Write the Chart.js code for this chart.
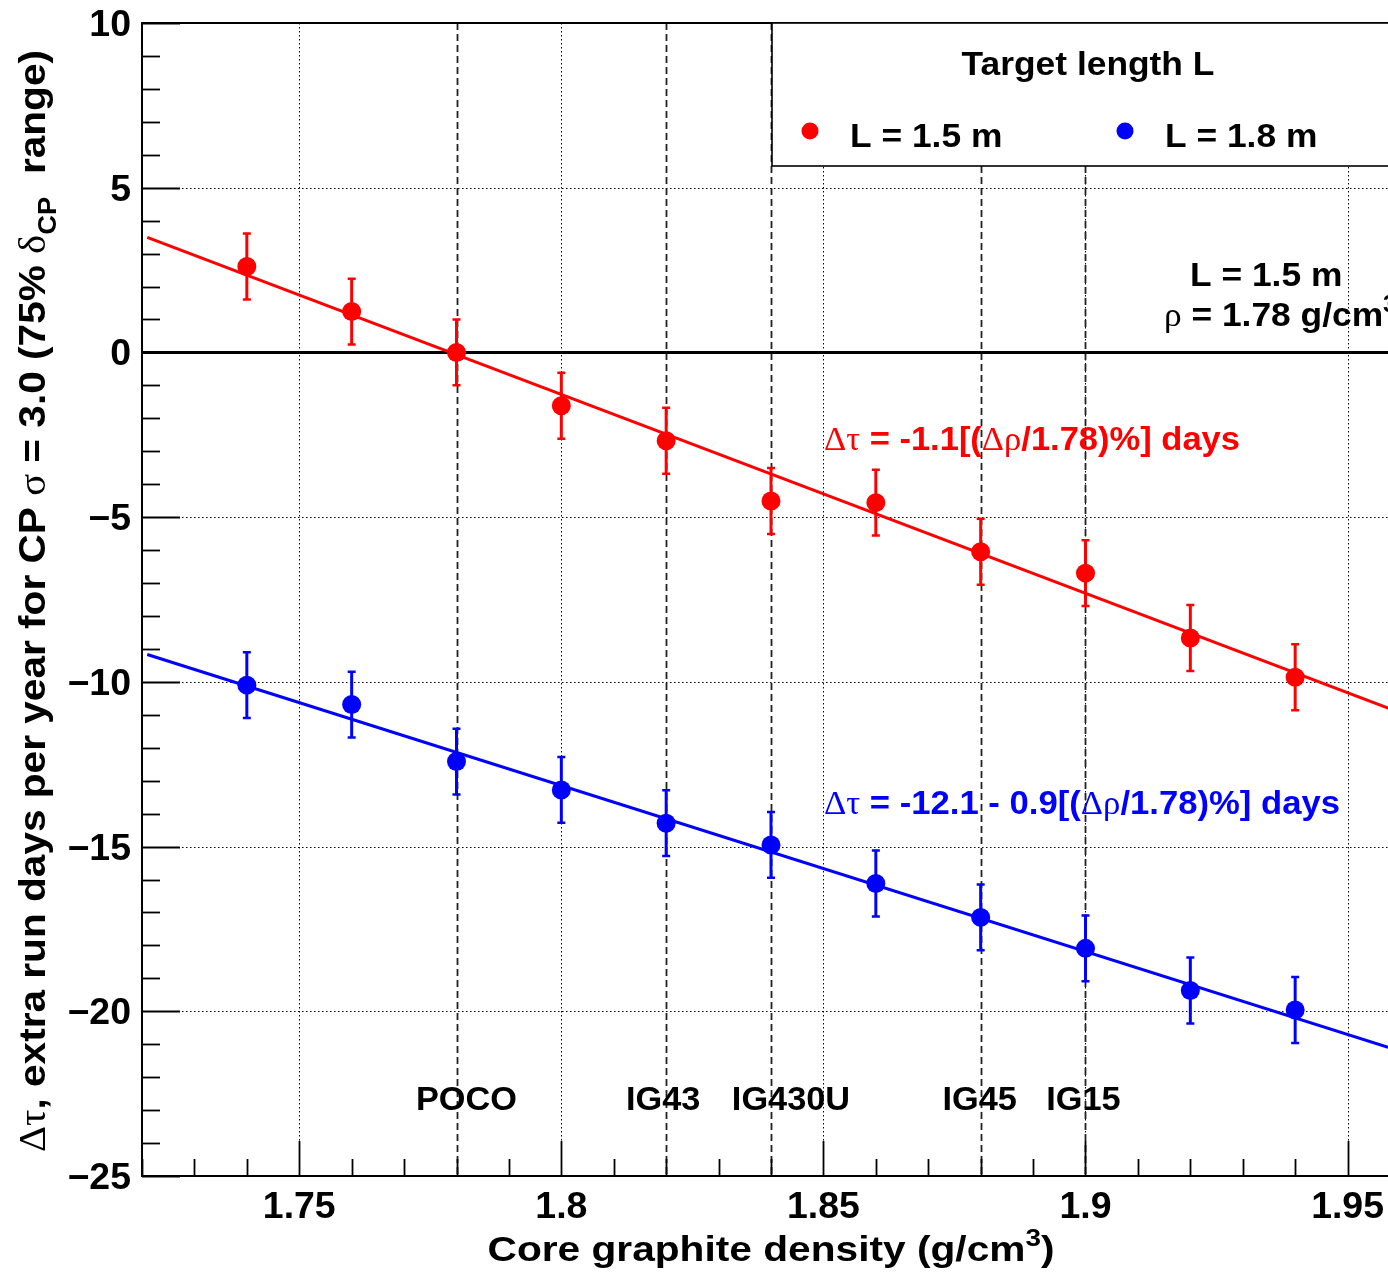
<!DOCTYPE html>
<html>
<head>
<meta charset="utf-8">
<script src="https://cdn.jsdelivr.net/npm/chart.js@4.4.1/dist/chart.umd.min.js"></script>
<style>
  html, body { margin: 0; padding: 0; background: #fff; overflow: hidden; }
  canvas { display: block; }
</style>
</head>
<body>
<canvas id="chart" width="1420" height="1273"></canvas>
<script>
// Extra run days per year vs. core graphite density, for two target lengths
const densities = [1.74, 1.76, 1.78, 1.80, 1.82, 1.84, 1.86, 1.88, 1.90, 1.92, 1.94];
const daysL15 = [2.61, 1.24, 0.00, -1.62, -2.68, -4.51, -4.56, -6.05, -6.70, -8.67, -9.86];
const errL15  = [1.0, 1.0, 1.0, 1.0, 1.0, 1.0, 1.0, 1.0, 1.0, 1.0, 1.0];
const daysL18 = [-10.10, -10.69, -12.42, -13.28, -14.29, -14.95, -16.12, -17.15, -18.09, -19.37, -19.96];
const errL18  = [1.0, 1.0, 1.0, 1.0, 1.0, 1.0, 1.0, 1.0, 1.0, 1.0, 1.0];

// Linear fits, evaluated at the ends of the fit range
const fitDensity = [1.721, 1.96];
const fitL15 = [3.49, -10.93];
const fitL18 = [-9.17, -21.21];

const seriesNames = ['L = 1.5 m', 'L = 1.8 m'];
const seriesColors = ['#ff0000', '#0000ff'];
const legendTitle = 'Target length L';

// Graphite grades and their densities
const materials = ['POCO', 'IG43', 'IG430U', 'IG45', 'IG15'];
const materialDensity = [1.78, 1.82, 1.84, 1.88, 1.90];

const xTicks = [1.75, 1.8, 1.85, 1.9, 1.95];
const xTickLabels = ['1.75', '1.8', '1.85', '1.9', '1.95'];
const yTicks = [10, 5, 0, -5, -10, -15, -20, -25];
const yTickLabels = ['10', '5', '0', '\u22125', '\u221210', '\u221215', '\u221220', '\u221225'];

// ---- text helpers -------------------------------------------------------
const SANS = '"Liberation Sans", Arial, Helvetica, sans-serif';
const SERIF = '"Liberation Serif", "Times New Roman", serif';

function pieceFont(kind, size) {
  if (kind === 'g') return `${size}px ${SERIF}`;
  if (kind === 'sub' || kind === 'sup') return `bold ${Math.round(size * 0.68)}px ${SANS}`;
  return `bold ${size}px ${SANS}`;
}
function pieceDy(kind, size) {
  if (kind === 'sub') return size * 0.3;
  if (kind === 'sup') return -size * 0.42;
  return 0;
}
// Draws a run of mixed-font pieces; optional target width stretches it horizontally
function richText(ctx, pieces, x, y, o) {
  const size = o.size;
  ctx.save();
  let total = 0;
  const widths = pieces.map(([k, t]) => {
    ctx.font = pieceFont(k, size);
    const w = ctx.measureText(t).width;
    total += w;
    return w;
  });
  const sx = o.width ? o.width / total : (o.stretch || 1.04);
  ctx.translate(x, y);
  if (o.angle) ctx.rotate(o.angle);
  ctx.scale(sx, 1);
  let cx = o.align === 'center' ? -total / 2 : (o.align === 'right' ? -total : 0);
  ctx.fillStyle = o.color || '#000';
  ctx.textAlign = 'left';
  ctx.textBaseline = 'alphabetic';
  pieces.forEach(([k, t], i) => {
    ctx.font = pieceFont(k, size);
    ctx.fillText(t, cx, pieceDy(k, size));
    cx += widths[i];
  });
  ctx.restore();
}

// ---- decorations drawn around the datasets --------------------------------
const decor = {
  id: 'densityDecor',
  beforeDatasetsDraw(chart) {
    const { ctx, chartArea: a, scales: { x, y } } = chart;
    ctx.save();
    ctx.beginPath();
    ctx.rect(a.left, a.top, a.right - a.left, a.bottom - a.top);
    ctx.clip();

    // dotted grid at major ticks
    ctx.strokeStyle = '#000';
    ctx.lineWidth = 1;
    ctx.setLineDash([1.5, 2.5]);
    xTicks.forEach(v => {
      const px = Math.round(x.getPixelForValue(v)) + 0.5;
      ctx.beginPath(); ctx.moveTo(px, a.top); ctx.lineTo(px, a.bottom); ctx.stroke();
    });
    yTicks.forEach(v => {
      if (v === 0 || v === y.max || v === y.min) return;
      const py = Math.round(y.getPixelForValue(v)) + 0.5;
      ctx.beginPath(); ctx.moveTo(a.left, py); ctx.lineTo(a.right, py); ctx.stroke();
    });

    // dashed markers for graphite grades
    ctx.strokeStyle = '#222';
    ctx.lineWidth = 1.8;
    ctx.setLineDash([7, 4]);
    materialDensity.forEach(v => {
      const px = Math.round(x.getPixelForValue(v)) + 0.5;
      ctx.beginPath(); ctx.moveTo(px, a.top); ctx.lineTo(px, a.bottom); ctx.stroke();
    });

    // zero line
    ctx.setLineDash([]);
    ctx.strokeStyle = '#000';
    ctx.lineWidth = 3;
    const y0 = y.getPixelForValue(0);
    ctx.beginPath(); ctx.moveTo(a.left, y0); ctx.lineTo(a.right, y0); ctx.stroke();

    // grade names
    const labelShift = [10, -3, 20, -1, -2];
    materials.forEach((m, i) => {
      richText(ctx, [['b', m]], x.getPixelForValue(materialDensity[i]) + labelShift[i], 1110,
        { size: 33, align: 'center' });
    });

    // error bars
    [[daysL15, errL15, seriesColors[0]], [daysL18, errL18, seriesColors[1]]].forEach(([vals, errs, col]) => {
      ctx.strokeStyle = col;
      densities.forEach((d, i) => {
        const px = x.getPixelForValue(d);
        const yt = y.getPixelForValue(vals[i] + errs[i]);
        const yb = y.getPixelForValue(vals[i] - errs[i]);
        ctx.lineWidth = 3;
        ctx.beginPath(); ctx.moveTo(px, yt); ctx.lineTo(px, yb); ctx.stroke();
        ctx.lineWidth = 2.5;
        ctx.beginPath();
        ctx.moveTo(px - 4, yt); ctx.lineTo(px + 4, yt);
        ctx.moveTo(px - 4, yb); ctx.lineTo(px + 4, yb);
        ctx.stroke();
      });
    });
    ctx.restore();
  },
  afterDatasetsDraw(chart) {
    const { ctx, chartArea: a, scales: { x, y } } = chart;
    ctx.save();
    ctx.setLineDash([]);

    // frame
    ctx.strokeStyle = '#000';
    ctx.lineWidth = 2;
    ctx.strokeRect(a.left, a.top, a.right - a.left, a.bottom - a.top);

    // tick marks, drawn inward
    ctx.lineWidth = 1.8;
    for (let i = Math.ceil(x.min * 100 - 1e-6); i <= Math.floor(x.max * 100 + 1e-6); i++) {
      const px = Math.round(x.getPixelForValue(i / 100)) + 0.5;
      const len = i % 5 === 0 ? 35 : 17;
      ctx.beginPath(); ctx.moveTo(px, a.bottom); ctx.lineTo(px, a.bottom - len); ctx.stroke();
    }
    for (let v = y.min; v <= y.max; v++) {
      const py = Math.round(y.getPixelForValue(v)) + 0.5;
      const len = v % 5 === 0 ? 38 : 18;
      ctx.beginPath(); ctx.moveTo(a.left, py); ctx.lineTo(a.left + len, py); ctx.stroke();
    }

    // tick labels
    xTicks.forEach((v, i) => {
      richText(ctx, [['b', xTickLabels[i]]], x.getPixelForValue(v), 1218, { size: 36, align: 'center' });
    });
    yTicks.forEach((v, i) => {
      richText(ctx, [['b', yTickLabels[i]]], a.left - 11, y.getPixelForValue(v) + 13, { size: 36, align: 'right' });
    });

    // legend box
    ctx.fillStyle = '#fff';
    ctx.fillRect(772, a.top, 700, 143);
    ctx.lineWidth = 1.6;
    ctx.strokeStyle = '#000';
    ctx.strokeRect(772, a.top, 700, 143);
    richText(ctx, [['b', legendTitle]], 1088, 75, { size: 34, align: 'center' });
    const entryX = [810, 1125];
    seriesNames.forEach((n, i) => {
      ctx.fillStyle = seriesColors[i];
      ctx.beginPath(); ctx.arc(entryX[i], 131, 8.5, 0, Math.PI * 2); ctx.fill();
      richText(ctx, [['b', n]], entryX[i] + 40, 147, { size: 34 });
    });

    // reference point note
    richText(ctx, [['b', 'L = 1.5 m']], 1190, 286, { size: 34 });
    richText(ctx, [['g', '\u03c1'], ['b', ' = 1.78 g/cm'], ['sup', '3']], 1164, 326, { size: 34 });

    // fit formulas
    richText(ctx, [['g', '\u0394\u03c4'], ['b', ' = -1.1[('], ['g', '\u0394\u03c1'], ['b', '/1.78)%] days']],
      824, 450, { size: 34, width: 416, color: seriesColors[0] });
    richText(ctx, [['g', '\u0394\u03c4'], ['b', ' = -12.1 - 0.9[('], ['g', '\u0394\u03c1'], ['b', '/1.78)%] days']],
      824, 814, { size: 34, width: 516, color: seriesColors[1] });

    // axis titles
    richText(ctx, [['b', 'Core graphite density (g/cm'], ['sup', '3'], ['b', ')']], 771, 1261,
      { size: 35, width: 567, align: 'center' });
    richText(ctx, [['g', '\u0394\u03c4'], ['b', ', extra run days per year for CP '], ['g', '\u03c3'],
                   ['b', ' = 3.0 (75% '], ['g', '\u03b4'], ['sub', 'CP'], ['b', '  range)']],
      45, 601, { size: 37, width: 1102, align: 'center', angle: -Math.PI / 2 });
    ctx.restore();
  }
};

const pts = vals => densities.map((d, i) => ({ x: d, y: vals[i] }));
const fitPts = vals => fitDensity.map((d, i) => ({ x: d, y: vals[i] }));

new Chart(document.getElementById('chart'), {
  type: 'scatter',
  data: {
    datasets: [
      { label: seriesNames[0], data: pts(daysL15), backgroundColor: seriesColors[0], borderWidth: 0,
        pointRadius: 9.5, pointHoverRadius: 9.5, order: 0 },
      { label: seriesNames[1], data: pts(daysL18), backgroundColor: seriesColors[1], borderWidth: 0,
        pointRadius: 9.5, pointHoverRadius: 9.5, order: 0 },
      { label: 'fit ' + seriesNames[0], data: fitPts(fitL15), showLine: true, borderColor: seriesColors[0],
        borderWidth: 3, pointRadius: 0, order: 1 },
      { label: 'fit ' + seriesNames[1], data: fitPts(fitL18), showLine: true, borderColor: seriesColors[1],
        borderWidth: 3, pointRadius: 0, order: 1 }
    ]
  },
  options: {
    responsive: false,
    animation: false,
    devicePixelRatio: 1,
    events: [],
    layout: { padding: { top: 23, right: 20, left: 0, bottom: 0 } },
    plugins: { legend: { display: false }, tooltip: { enabled: false }, title: { display: false } },
    scales: {
      x: {
        type: 'linear', min: 1.72, max: 1.96,
        grid: { display: false }, border: { display: false },
        ticks: { display: false },
        afterFit(s) { s.height = 97; }
      },
      y: {
        type: 'linear', min: -25, max: 10,
        grid: { display: false }, border: { display: false },
        ticks: { display: false },
        afterFit(s) { s.width = 142; }
      }
    }
  },
  plugins: [decor]
});
</script>
</body>
</html>
